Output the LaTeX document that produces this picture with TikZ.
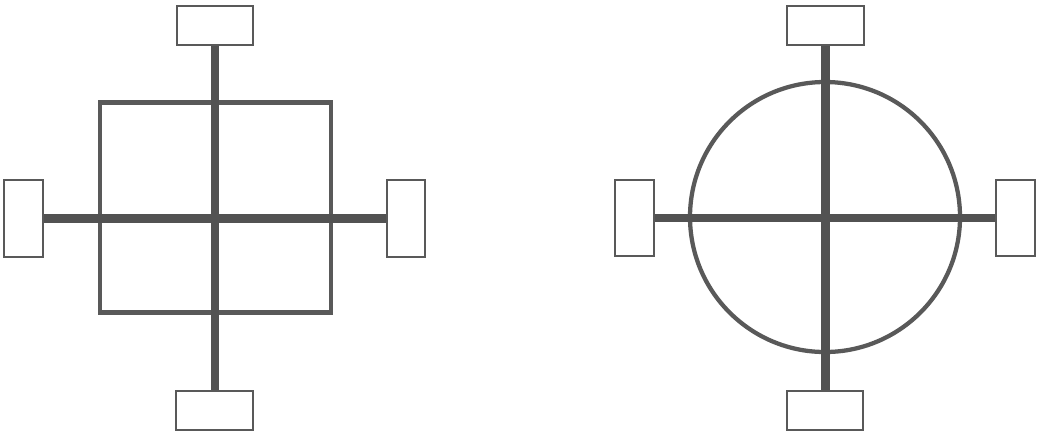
\documentclass[tikz,border=0pt]{standalone}
\begin{document}
\begin{tikzpicture}[x=0.75pt,y=-0.75pt,
  pad/.style={draw=black!65, line width=1.3pt, fill=white, inner sep=0pt},
  hpad/.style={pad, minimum width=57.5pt, minimum height=29pt},
  vpad/.style={pad, minimum width=29pt, minimum height=57.5pt},
  frame/.style={draw=black!65, line width=3.2pt, inner sep=0pt},
  bar/.style={draw=black!68, line width=6.3pt}]
\useasboundingbox (0,0) rectangle (1041,437);
% left figure
\node[frame, minimum width=173.6pt, minimum height=157.5pt] (sq) at (215.5,207.5) {};
\node[hpad] (lt) at (215,25.5) {};
\node[hpad] (lb) at (214.5,410.5) {};
\node[vpad] (ll) at (23.5,218.5) {};
\node[vpad] (lr) at (406,218.5) {};
\draw[bar] (lt.south) -- (lt.south |- lb.north);
\draw[bar] (ll.east) -- (ll.east -| lr.west);
% right figure
\node[frame, circle, minimum size=202.5pt] (ci) at (825,217) {};
\node[hpad] (rt) at (825.5,25.5) {};
\node[hpad] (rb) at (825,410.5) {};
\node[vpad] (rl) at (634.5,218) {};
\node[vpad] (rr) at (1015.5,218) {};
\draw[bar] (rt.south) -- (rt.south |- rb.north);
\draw[bar] (rl.east) -- (rl.east -| rr.west);
\end{tikzpicture}
\end{document}
